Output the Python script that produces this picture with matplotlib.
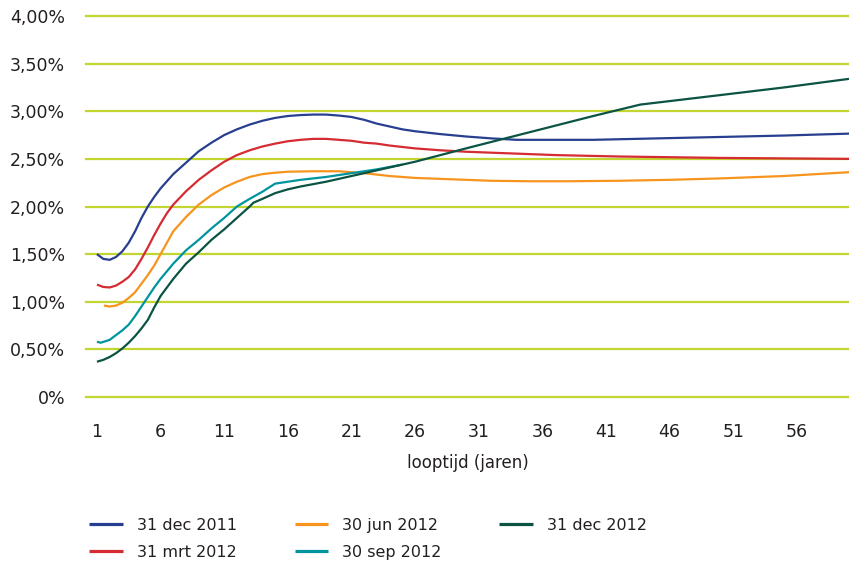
import matplotlib
matplotlib.use('Agg')
import matplotlib.pyplot as plt

# series values (rente in %, looptijd in jaren)
x_dec2011 = [1, 1.5, 2, 2.5, 3, 3.5, 4, 4.5, 5, 5.5, 6, 7, 8, 9, 10, 11, 12, 13, 14, 15,
             16, 17, 18, 19, 20, 21, 22, 23, 24, 25, 26, 28, 30, 32, 34, 37, 40, 45, 50, 55, 60.1]
y_dec2011 = [1.50, 1.45, 1.44, 1.47, 1.53, 1.62, 1.74, 1.88, 2.00, 2.10, 2.19, 2.34, 2.46, 2.58,
             2.67, 2.75, 2.81, 2.86, 2.90, 2.93, 2.95, 2.96, 2.965, 2.965, 2.955, 2.94, 2.91, 2.87,
             2.84, 2.81, 2.79, 2.76, 2.735, 2.715, 2.70, 2.70, 2.70, 2.715, 2.73, 2.745, 2.765]

x_mrt2012 = [1, 1.5, 2, 2.5, 3, 3.5, 4, 4.5, 5, 5.5, 6, 6.5, 7, 8, 9, 10, 11, 12, 13, 14, 15,
             16, 17, 18, 19, 20, 21, 22, 23, 24, 26, 28, 30, 33, 37, 42, 50, 60.1]
y_mrt2012 = [1.18, 1.155, 1.15, 1.17, 1.21, 1.26, 1.34, 1.45, 1.57, 1.70, 1.82, 1.93, 2.02, 2.16,
             2.28, 2.38, 2.47, 2.54, 2.59, 2.63, 2.66, 2.685, 2.70, 2.71, 2.71, 2.70, 2.69, 2.67,
             2.66, 2.64, 2.61, 2.59, 2.575, 2.56, 2.54, 2.525, 2.51, 2.50]

x_jun2012 = [1.55, 2, 2.5, 3, 3.5, 4, 4.5, 5, 5.5, 6, 6.5, 7, 8, 9, 10, 11, 12, 13, 14, 15, 16,
             18, 20, 22, 24, 26, 28, 30, 32, 35, 38, 42, 46, 50, 55, 60.1]
y_jun2012 = [0.96, 0.95, 0.96, 0.99, 1.04, 1.10, 1.19, 1.28, 1.38, 1.50, 1.62, 1.74, 1.89, 2.02,
             2.12, 2.20, 2.26, 2.31, 2.34, 2.355, 2.365, 2.37, 2.37, 2.35, 2.32, 2.30, 2.29, 2.28,
             2.27, 2.265, 2.265, 2.27, 2.28, 2.295, 2.32, 2.36]

x_sep2012 = [1, 1.3, 2, 2.5, 3, 3.5, 4, 4.5, 5, 5.5, 6, 7, 8, 9, 10, 11, 12, 13, 14, 15,
             17, 19, 21, 23, 25]
y_sep2012 = [0.58, 0.57, 0.60, 0.65, 0.70, 0.76, 0.85, 0.95, 1.05, 1.15, 1.24, 1.40, 1.54, 1.65,
             1.77, 1.88, 2.00, 2.08, 2.155, 2.24, 2.28, 2.31, 2.35, 2.39, 2.44]

x_dec2012 = [1, 1.5, 2, 2.5, 3, 3.5, 4, 4.5, 5, 5.5, 6, 7, 8, 9, 10, 11, 12, 13, 13.3, 14, 15,
             16, 17, 19, 21, 23, 26, 30, 35, 40, 43.7, 50, 55, 60.1]
y_dec2012 = [0.37, 0.39, 0.42, 0.46, 0.51, 0.57, 0.64, 0.72, 0.81, 0.94, 1.06, 1.24, 1.40, 1.52,
             1.65, 1.76, 1.88, 2.00, 2.04, 2.08, 2.14, 2.18, 2.21, 2.26, 2.32, 2.38, 2.47, 2.61,
             2.78, 2.95, 3.07, 3.17, 3.25, 3.34]

labels = ['31 dec 2011', '31 mrt 2012', '30 jun 2012', '30 sep 2012', '31 dec 2012']
colors = ['#283f8f', '#d52b32', '#f7941e', '#00959e', '#0b5443']

xticks = [1, 6, 11, 16, 21, 26, 31, 36, 41, 46, 51, 56]
yticks = [0, 0.5, 1.0, 1.5, 2.0, 2.5, 3.0, 3.5, 4.0]
yticklabels = ['0%', '0,50%', '1,00%', '1,50%', '2,00%', '2,50%', '3,00%', '3,50%', '4,00%']

gridcolor = '#c2d530'
textcolor = '#231f20'

fig = plt.figure(figsize=(8.49, 5.67), dpi=100)
ax = fig.add_axes([86/849, 1-397/567, (849-86)/849, (397-16)/567])

# horizontal grid lines
for y in yticks:
    ax.axhline(y, color=gridcolor, linewidth=1.6, zorder=0, clip_on=False)

series = [(x_dec2011, y_dec2011), (x_mrt2012, y_mrt2012), (x_jun2012, y_jun2012),
          (x_sep2012, y_sep2012), (x_dec2012, y_dec2012)]
for (xs, ys), label, color in zip(series, labels, colors):
    ax.plot(xs, ys, color=color, linewidth=1.6, label=label, solid_capstyle='butt',
            clip_on=False)

ax.set_xlim(0.14, 60.1)
ax.set_ylim(0, 4.0)
ax.set_xticks(xticks)
ax.set_yticks(yticks)
ax.set_yticklabels(yticklabels)
ax.tick_params(axis='both', length=0, labelsize=12.5, colors=textcolor)
ax.tick_params(axis='x', pad=19)
ax.tick_params(axis='y', pad=15)
for s in ax.spines.values():
    s.set_visible(False)
ax.set_xlabel('looptijd (jaren)', fontsize=12, color=textcolor, labelpad=9)

leg = fig.legend(loc='upper left', bbox_to_anchor=(89/849, 1-518/567), ncol=3,
                 frameon=False, fontsize=11.5, handlelength=2.1, handletextpad=0.9,
                 columnspacing=3.6, labelspacing=0.75, borderpad=0, borderaxespad=0)
for line in leg.get_lines():
    line.set_linewidth(2.3)
for t in leg.get_texts():
    t.set_color(textcolor)

fig.savefig('out.png', dpi=100)
